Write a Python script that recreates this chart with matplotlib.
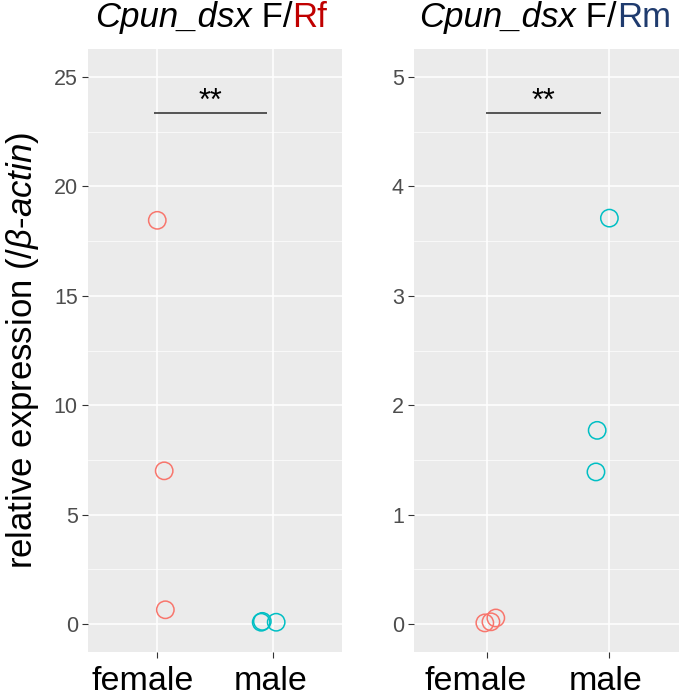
import matplotlib
matplotlib.use("Agg")
import matplotlib.pyplot as plt
from matplotlib.transforms import ScaledTranslation
import numpy as np

plt.rcParams['font.family'] = ['Liberation Sans', 'DejaVu Sans']
plt.rcParams['mathtext.fontset'] = 'custom'
plt.rcParams['mathtext.rm'] = 'Liberation Sans'
plt.rcParams['mathtext.it'] = 'Liberation Sans:italic'

categories = ['female', 'male']

# Left panel: Cpun_dsx F/Rf
rf_female = [18.45, 7.0, 0.65]
rf_female_jitter = [0.0, 0.06, 0.07]
rf_male = [0.08, 0.12, 0.08]
rf_male_jitter = [-0.10, -0.09, 0.03]
rf_yticks = [0, 5, 10, 15, 20, 25]
rf_sig = (0.97, 1.95, 23.35)

# Right panel: Cpun_dsx F/Rm
rm_female = [0.01, 0.02, 0.055]
rm_female_jitter = [-0.02, 0.03, 0.07]
rm_male = [3.71, 1.77, 1.39]
rm_male_jitter = [0.0, -0.10, -0.11]
rm_yticks = [0, 1, 2, 3, 4, 5]
rm_sig = (0.99, 1.93, 4.67)

col_f = '#F8766D'
col_m = '#00BFC4'

W, H = 685, 696
fig = plt.figure(figsize=(W / 100, H / 100), dpi=100)

def px_axes(l, r, t, b):
    return fig.add_axes([l / W, 1 - b / H, (r - l) / W, (b - t) / H])

ax1 = px_axes(88, 342, 49, 652)
ax2 = px_axes(414, 679, 49, 652)

def style(ax, yticks, ylim, xlim, fvals, fjit, mvals, mjit, sig, label_shift, star_dy):
    ax.set_facecolor('#EBEBEB')
    for s in ax.spines.values():
        s.set_visible(False)
    ax.set_xlim(*xlim)
    ax.set_ylim(*ylim)
    ax.set_xticks([1, 2])
    ax.set_xticklabels(categories)
    ax.set_yticks(yticks)
    ax.set_yticks([(a + b) / 2 for a, b in zip(yticks[:-1], yticks[1:])], minor=True)
    ax.grid(True, which='major', color='white', linewidth=1.1)
    ax.grid(True, which='minor', axis='y', color='white', linewidth=0.5)
    ax.set_axisbelow(True)
    ax.tick_params(axis='y', which='major', length=4.3, width=0.8, color='#333333',
                   labelsize=15.5, labelcolor='#4D4D4D', pad=3)
    ax.tick_params(axis='x', which='major', length=4, width=0.8, color='#333333',
                   labelsize=24.5, labelcolor='black', pad=6)
    ax.tick_params(which='minor', length=0)
    for lab, dx in zip(ax.get_xticklabels(), label_shift):
        lab.set_transform(lab.get_transform() + ScaledTranslation(dx / 100, 0, fig.dpi_scale_trans))
    xf = [1 + j for j in fjit]
    xm = [2 + j for j in mjit]
    ax.scatter(xf, fvals, s=12.5 ** 2, facecolors='none', edgecolors=col_f, linewidths=1.1, zorder=3)
    ax.scatter(xm, mvals, s=12.5 ** 2, facecolors='none', edgecolors=col_m, linewidths=1.1, zorder=3)
    x0, x1, y = sig
    ax.plot([x0, x1], [y, y], color='#2b2b2b', linewidth=1.1, solid_capstyle='butt')
    ax.text((x0 + x1) / 2, y + star_dy, '**', ha='center', va='baseline', fontsize=22, color='black')

style(ax1, rf_yticks, (-1.28, 26.28), (0.4, 2.6), rf_female, rf_female_jitter, rf_male, rf_male_jitter,
      rf_sig, (-15, -2), 0.15)
style(ax2, rm_yticks, (-0.256, 5.256), (0.4, 2.57), rm_female, rm_female_jitter, rm_male, rm_male_jitter,
      rm_sig, (-12, -4), 0.03)

fig.text(23 / W, 1 - 351 / H, r'relative expression ($\mathit{/β}$-$\mathit{actin}$)',
         rotation=90, ha='center', va='center', fontsize=25)

# Titles made of differently styled pieces
def title(center_px, pieces, baseline_px=27, fs=25):
    texts = []
    for s, style_, color in pieces:
        t = fig.text(0, 1 - baseline_px / H, s, fontsize=fs, fontstyle=style_, color=color,
                     ha='left', va='baseline')
        texts.append(t)
    fig.canvas.draw()
    r = fig.canvas.get_renderer()
    widths = [t.get_window_extent(r).width for t in texts]
    total = sum(widths)
    x = center_px - total / 2
    for t, w in zip(texts, widths):
        t.set_x(x / W)
        x += w

title(211, [('Cpun_dsx', 'italic', 'black'), (' F/', 'normal', 'black'), ('Rf', 'normal', '#C00000')])
title(545, [('Cpun_dsx', 'italic', 'black'), (' F/', 'normal', 'black'), ('Rm', 'normal', '#1F3B6E')])

fig.savefig('out.png', dpi=100, facecolor='white')
